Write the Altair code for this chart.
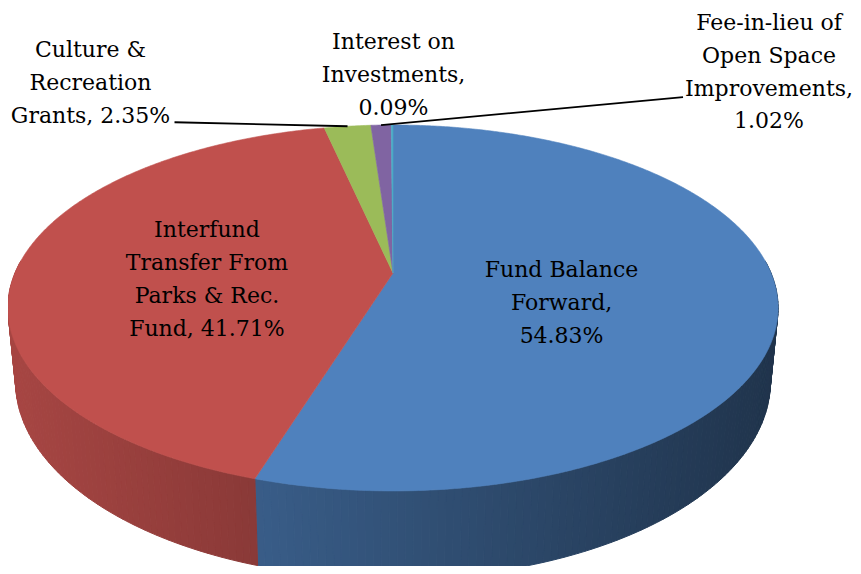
import math
import pandas as pd
import altair as alt

# ---------------- data ----------------
categories = [
    "Fund Balance\nForward",
    "Interfund\nTransfer From\nParks & Rec.\nFund",
    "Culture &\nRecreation\nGrants",
    "Fee-in-lieu of\nOpen Space\nImprovements",
    "Interest on\nInvestments",
]
shares = [54.83, 41.71, 2.35, 1.02, 0.09]
palette = ["#4F81BD", "#C0504D", "#9BBB59", "#8064A2", "#4BACC6"]

# ---------------- label layout ----------------
label_sep = [",\n", ", ", ", ", ",\n", ",\n"]
label_r = [0.5, 0.5, 1.0, 1.0, 1.0]
label_off = [(-21, -9.5), (2, -32), (-257, -69), (388, -95), (1.4, -76)]
leader_off = [None, None, (-173, -4), (302, -28), None]

# ---------------- 3D projection parameters ----------------
PX = 378.0          # pixels per unit radius
K = 0.191           # perspective strength
B = 176.3 / PX      # vertical squash
D = 71.0 / PX       # pie thickness
S = 0.98            # bottom rim shrink
CX, CY = 393.0, 273.0


def top(theta, r=1.0):
    t = math.radians(theta)
    u = r * math.sin(t)
    v = -r * math.cos(t)
    w = 1 - K * v
    return u / w, B * v / w, w


def bottom(theta):
    x, y, w = top(theta)
    return S * x, y + D / w


def shade(hex_color, f):
    h = hex_color.lstrip("#")
    rgb = [int(h[i:i + 2], 16) for i in (0, 2, 4)]
    return "#" + "".join(f"{max(0, min(255, int(round(c * f)))):02x}" for c in rgb)


total = sum(shares)
bounds = [0.0]
for s in shares:
    bounds.append(bounds[-1] + s / total * 360.0)

top_rows = []
wall_rows = []
seg_id = 0
for i, cat in enumerate(categories):
    a0, a1 = bounds[i], bounds[i + 1]
    n = max(2, int(math.ceil((a1 - a0) / 0.5)) + 1)
    pts = [(0.0, 0.0)]
    for j in range(n):
        th = a0 + (a1 - a0) * j / (n - 1)
        x, y, _ = top(th)
        pts.append((x, y))
    pts.append((0.0, 0.0))
    for o, (x, y) in enumerate(pts):
        top_rows.append({"slice": i, "o": o, "x": x, "y": y, "col": palette[i]})

    # side walls (front half only)
    w0, w1 = max(a0, 86.0), min(a1, 274.0)
    if w1 > w0:
        m = max(1, int(math.ceil((w1 - w0) / 1.0)))
        for j in range(m):
            ta = w0 + (w1 - w0) * j / m
            tb = w0 + (w1 - w0) * (j + 1) / m
            xa, ya, _ = top(ta)
            xb, yb, _ = top(tb)
            xbb, ybb = bottom(tb)
            xab, yab = bottom(ta)
            xm = (xa + xb) / 2
            f = 0.635 - 0.23 * xm
            c = shade(palette[i], f)
            quad = [(xa, ya), (xb, yb), (xbb, ybb), (xab, yab), (xa, ya)]
            for o, (x, y) in enumerate(quad):
                wall_rows.append({"seg": seg_id, "o": o, "x": x, "y": y, "col": c})
            seg_id += 1

top_df = pd.DataFrame(top_rows)
wall_df = pd.DataFrame(wall_rows)

lab_rows = []
lead_rows = []
for i, cat in enumerate(categories):
    mid = (bounds[i] + bounds[i + 1]) / 2
    ax, ay, _ = top(mid, label_r[i])
    dx, dy = label_off[i]
    lab_rows.append({
        "x": ax + dx / PX,
        "y": ay + dy / PX,
        "text": cat + label_sep[i] + f"{shares[i]:.2f}%",
    })
    if leader_off[i] is not None:
        ex, ey = leader_off[i]
        lead_rows.append({"id": i, "o": 0, "x": ax, "y": ay})
        lead_rows.append({"id": i, "o": 1, "x": ax + ex / PX, "y": ay + ey / PX})

lab_df = pd.DataFrame(lab_rows)
lead_df = pd.DataFrame(lead_rows)

W, H = 845, 558
xs = alt.Scale(domain=[(8 - CX) / PX, (8 + W - CX) / PX], nice=False, zero=False)
ys = alt.Scale(domain=[(8 - CY) / PX, (8 + H - CY) / PX], nice=False, zero=False, reverse=True)
X = alt.X("x:Q", scale=xs, axis=None)
Y = alt.Y("y:Q", scale=ys, axis=None)

walls = alt.Chart(wall_df).mark_line(filled=True, strokeWidth=1, interpolate="linear").encode(
    x=X, y=Y, order="o:Q", detail="seg:N",
    color=alt.Color("col:N", scale=None), stroke=alt.Stroke("col:N", scale=None),
)

tops = alt.Chart(top_df).mark_line(filled=True, strokeWidth=0.6, interpolate="linear").encode(
    x=X, y=Y, order="o:Q", detail="slice:N",
    color=alt.Color("col:N", scale=None), stroke=alt.Stroke("col:N", scale=None),
)

leaders = alt.Chart(lead_df).mark_line(color="black", strokeWidth=1.8).encode(
    x=X, y=Y, order="o:Q", detail="id:N",
)

labels = alt.Chart(lab_df).mark_text(
    font="DejaVu Serif", fontSize=22, lineBreak="\n", lineHeight=32.8,
    align="center", baseline="alphabetic", color="black",
).encode(x=X, y=Y, text="text:N")

chart = alt.layer(walls, tops, leaders, labels).properties(
    width=W, height=H, autosize=alt.AutoSizeParams(type="none"), padding=0,
    background="white",
).configure_view(stroke=None)

chart.save("out.html", embed_options={"renderer": "svg", "actions": False})
